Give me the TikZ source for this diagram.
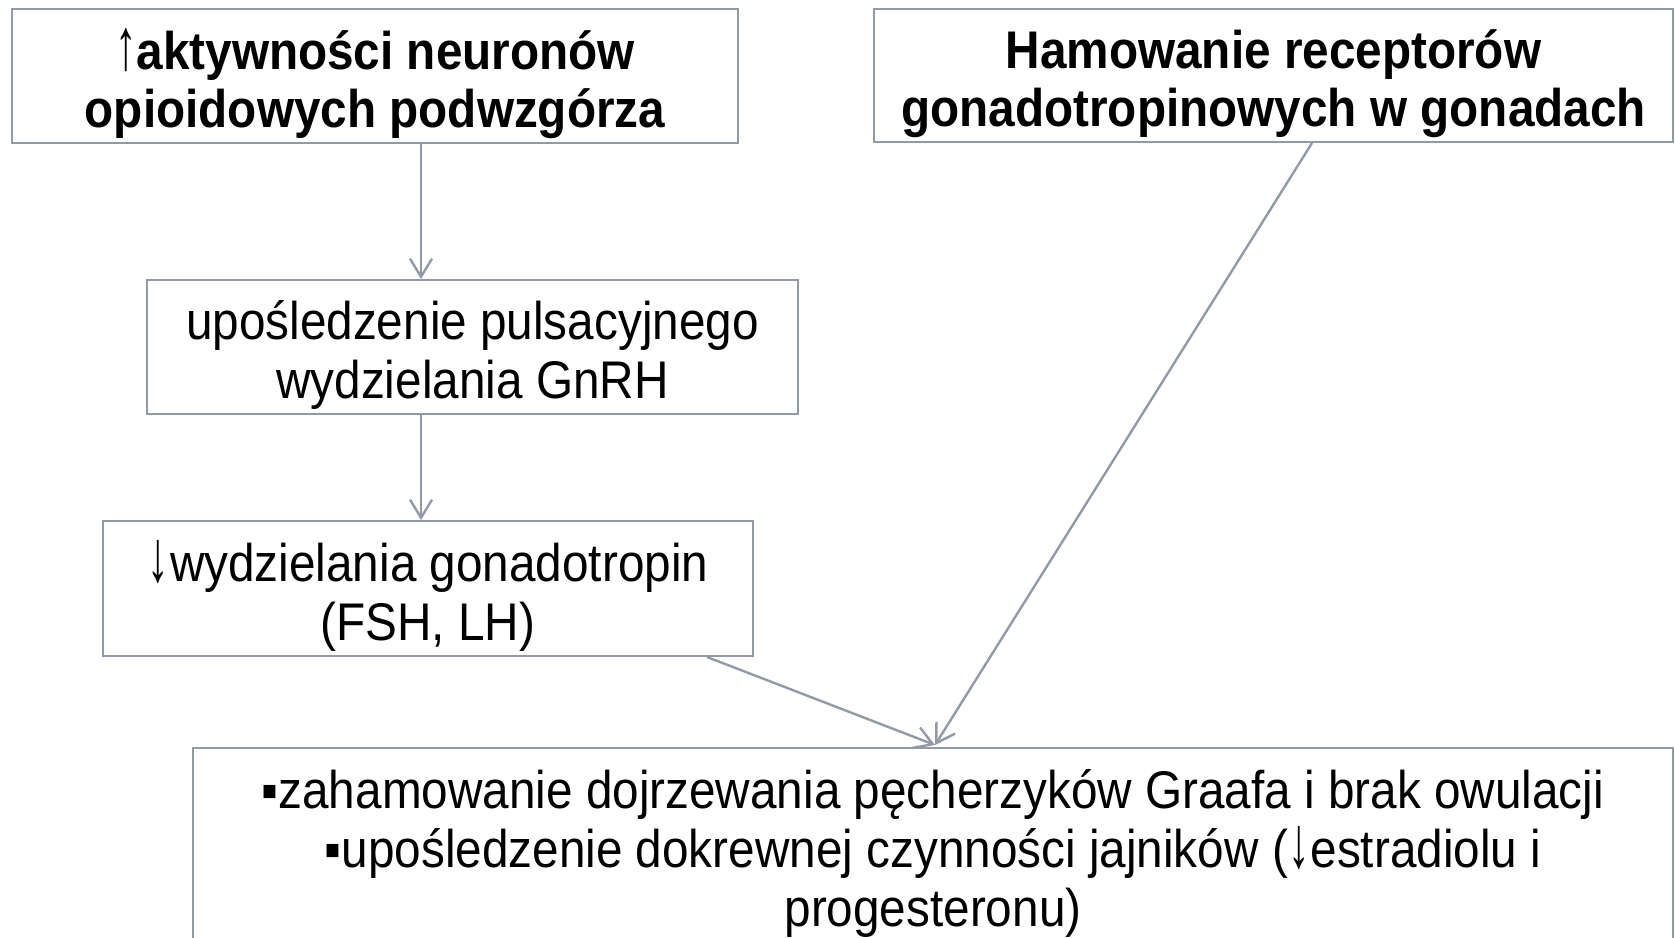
\documentclass[tikz,border=0pt]{standalone}
\usepackage{fontspec}
\setmainfont{Liberation Sans}[FakeStretch=0.9]
\usetikzlibrary{arrows.meta}
\definecolor{ln}{HTML}{939AA7}
\newcommand\tstrut{\rule{0pt}{27.8pt}}
\newcommand\uarr{{\mdseries\scalebox{0.9}[1.38]{↑}}}
\newcommand\darr{\scalebox{0.9}[1.38]{↓}\kern0.5pt}
\begin{document}
\begin{tikzpicture}[x=0.5pt,y=-0.5pt,
  box/.style={draw=ln,line width=1pt,inner sep=0pt,align=center,font=\fontsize{26.5}{29.5}\selectfont},
  bbox/.style={box,font=\fontsize{26.5}{29}\selectfont\bfseries},
  arr/.style={draw=ln,line width=1.2pt,-{Straight Barb[length=9pt,width=11pt,line width=1.2pt]}}]
\useasboundingbox (0,0) rectangle (1675,937);
\node[bbox,minimum width=363pt,minimum height=67pt] (b1) at (375,76)
  {\tstrut\uarr aktywności neuronów\\opioidowych podwzgórza};
\node[bbox,minimum width=399.5pt,minimum height=66.5pt] (b2) at (1273.5,75.5)
  {\tstrut Hamowanie receptorów\\gonadotropinowych w gonadach};
\node[box,minimum width=325.5pt,minimum height=67pt] (b3) at (472.5,347)
  {\tstrut upośledzenie pulsacyjnego\\wydzielania GnRH};
\node[box,minimum width=325pt,minimum height=67.5pt] (b4) at (428,588.5)
  {\tstrut\darr wydzielania gonadotropin\\(FSH, LH)};
\node[box,minimum width=740pt,minimum height=97pt] (b5) at (933,845)
  {\tstrut ▪zahamowanie dojrzewania pęcherzyków Graafa i brak owulacji\\▪upośledzenie dokrewnej czynności jajników (\darr estradiolu i\\progesteronu)};
\draw[arr] ([xshift=23pt]b1.south) -- ([xshift=23pt]b1.south |- b3.north);
\draw[arr] ([xshift=-25.75pt]b3.south) -- ([xshift=-25.75pt]b3.south |- b4.north);
\draw[arr] ([xshift=139.5pt]b4.south) -- ([xshift=1pt,yshift=1pt]b5.north);
\draw[arr] ([xshift=19.25pt]b2.south) -- ([xshift=1pt,yshift=1pt]b5.north);
\end{tikzpicture}
\end{document}
